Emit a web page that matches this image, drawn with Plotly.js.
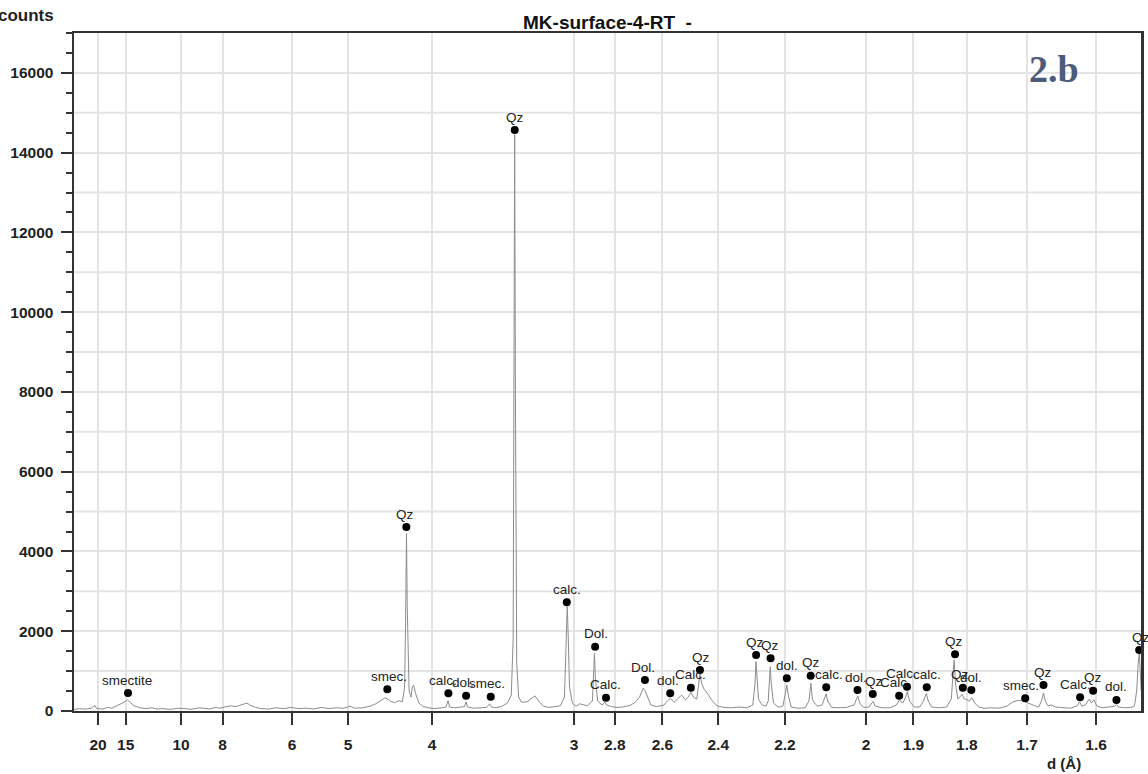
<!DOCTYPE html>
<html><head><meta charset="utf-8">
<script src="https://cdn.plot.ly/plotly-3.0.1.min.js"></script>
<style>html,body{margin:0;padding:0;background:#fff;}#chart{width:1148px;height:774px;}</style>
</head><body><div id="chart"></div>
<script>
// Cu K-alpha wavelength (Å) used to place d-spacings on the 2θ-linear scan axis
const WAVELENGTH = 1.5406;

// Diffractogram profile: 2θ (deg) and counts
const twoTheta = [3.14,3.45,3.75,4.05,4.25,4.35,4.65,4.95,5.15,5.35,5.55,5.72,5.87,5.99,6.12,6.27,6.47,6.67,6.97,7.27,7.57,7.87,8.27,8.67,9.07,9.37,9.77,10.07,10.37,10.67,10.87,11.17,11.47,11.77,12.07,12.35,12.50,12.80,13.10,13.50,13.90,14.30,14.70,15.10,15.50,15.90,16.30,16.70,17.10,17.50,17.83,18.10,18.50,18.90,19.20,19.45,19.70,19.85,20.00,20.20,20.45,20.62,20.74,20.79,20.84,20.88,20.92,20.98,21.08,21.15,21.22,21.35,21.50,21.70,22.00,22.30,22.70,22.95,23.05,23.14,23.40,23.70,23.93,24.01,24.09,24.40,24.80,25.10,25.27,25.37,25.62,25.92,26.22,26.42,26.52,26.56,26.60,26.64,26.67,26.71,26.81,26.96,27.26,27.48,27.68,27.88,28.13,28.43,28.73,29.03,29.25,29.33,29.40,29.45,29.52,29.67,29.87,30.07,30.27,30.47,30.74,30.80,30.85,30.90,31.02,31.25,31.41,31.50,31.75,32.05,32.35,32.75,33.05,33.25,33.45,33.55,33.70,33.85,34.15,34.55,34.75,34.89,35.10,35.30,35.49,35.70,35.85,35.99,36.15,36.30,36.40,36.47,36.55,36.68,36.90,37.05,37.36,37.75,38.15,38.55,38.95,39.28,39.40,39.45,39.50,39.58,39.78,39.98,40.10,40.16,40.21,40.26,40.38,40.65,40.88,41.02,41.09,41.17,41.32,41.67,42.07,42.27,42.37,42.45,42.57,42.72,42.97,43.12,43.18,43.27,43.47,43.87,44.27,44.67,44.82,44.87,44.97,45.17,45.47,45.68,45.80,46.17,46.57,46.92,47.08,47.27,47.42,47.51,47.62,47.87,48.17,48.37,48.52,48.62,48.80,49.20,49.60,49.85,49.95,50.00,50.07,50.20,50.30,50.42,50.55,50.70,50.80,50.94,51.10,51.30,51.60,52.00,52.40,52.80,53.10,53.40,53.70,54.00,54.30,54.50,54.65,54.76,54.85,55.00,55.20,55.40,55.80,56.20,56.55,56.68,56.80,57.00,57.20,57.30,57.45,57.60,57.90,58.20,58.55,58.65,58.75,59.10,59.40,59.60,59.72,59.80,59.86,59.91,59.96];
const counts = [40,60,45,70,140,60,50,90,70,110,150,200,240,280,220,150,110,80,60,80,50,60,40,70,60,40,80,60,50,90,70,100,130,110,150,200,150,90,60,50,80,60,90,60,70,50,90,60,80,70,120,70,80,120,180,260,330,300,240,210,260,230,600,2200,4450,2600,1400,500,350,600,650,400,200,120,80,60,80,100,260,100,80,90,110,230,100,70,80,90,180,100,80,120,200,400,1800,7000,14450,8000,4200,1200,350,220,230,320,380,250,120,90,110,130,350,1500,2615,1900,600,200,120,180,150,130,250,900,1450,800,250,150,220,150,110,90,100,140,230,350,570,500,300,150,110,150,260,320,220,300,400,280,350,470,330,300,700,950,700,550,420,300,130,90,80,100,80,150,700,1240,900,300,150,120,250,800,1110,700,200,90,120,450,650,400,100,70,80,250,700,300,200,120,150,350,430,250,90,80,90,150,330,380,200,90,100,240,120,80,80,150,270,200,350,490,250,100,100,250,440,250,100,80,100,300,1000,1280,700,300,350,420,300,280,240,330,200,100,70,80,70,120,220,270,250,180,130,100,250,450,250,130,150,100,80,70,130,230,120,160,300,200,280,120,80,90,120,160,100,80,90,120,500,1200,1450,1000,500];

// Identified reflections: d-spacing (Å), marker counts, phase label
const peakD = [14.69,4.476,4.261,3.852,3.703,3.514,3.348,3.038,2.893,2.841,2.670,2.570,2.494,2.462,2.282,2.240,2.195,2.132,2.093,2.019,1.985,1.929,1.913,1.874,1.821,1.807,1.792,1.703,1.675,1.622,1.604,1.573,1.544];
const peakCounts = [450,544,4613,443,384,359,14566,2725,1612,334,777,443,585,1028,1404,1320,819,886,594,526,426,384,610,594,1421,585,526,318,652,343,510,276,1529];
const peakLabels = ['smectite','smec.','Qz','calc.','dol.','smec.','Qz','calc.','Dol.','Calc.','Dol.','dol.','Calc.','Qz','Qz','Qz','dol.','Qz','calc.','dol.','Qz','Calc.','Calc.','calc.','Qz','Qz','dol.','smec.','Qz','Calc.','Qz','dol.','Qz'];

// d-spacing tick labels (Å)
const dTickLabels = [20,15,10,8,6,5,4,3,2.8,2.6,2.4,2.2,2,1.9,1.8,1.7,1.6];

// label nudges (px), layout only
const labelDx = [-1,2,-1,-5,-3,-4,0,0,1,-1,-2,-2,0,1,-1,-1,0,0,3,-2,1,-4,-5,0,-1,-3,0,-4,-1,-5,0,0,2];

function dToTwoTheta(d){ return 2*Math.asin(WAVELENGTH/(2*d))*180/Math.PI; }

const peakX = peakD.map(dToTwoTheta);
const tickVals = dTickLabels.map(dToTwoTheta);
const tickText = dTickLabels.map(String);

const SANS = 'Liberation Sans, Arial, Helvetica, sans-serif';
const GRID = '#e4e4e4';
const AXIS = '#333333';

const traces = [
  {type:'scatter', mode:'lines', x: twoTheta, y: counts,
   line:{color:'#8c8c8c', width:1}, hoverinfo:'skip', showlegend:false},
  {type:'scatter', mode:'markers', x: peakX, y: peakCounts,
   marker:{color:'#000', size:8}, cliponaxis:false, hoverinfo:'skip', showlegend:false}
];

const annotations = peakLabels.map((t,i)=>({
  x: peakX[i], y: peakCounts[i], xref:'x', yref:'y', text: t, showarrow:false,
  xshift: labelDx[i], yshift: 13, yanchor:'middle', xanchor:'center',
  font:{family:SANS, size:13.5, color:'#222'}
}));
annotations.push(
  {xref:'paper', yref:'paper', x:-0.0169, y:1.0265, xanchor:'right', yanchor:'middle', showarrow:false,
   text:'counts', font:{family:SANS, size:17, weight:'bold', color:'#222'}},
  {xref:'paper', yref:'paper', x:0.928, y:-0.0767, xanchor:'center', yanchor:'middle', showarrow:false,
   text:'d (Å)', font:{family:SANS, size:15, weight:'bold', color:'#222'}},
  {xref:'paper', yref:'paper', x:0.9185, y:0.9469, xanchor:'center', yanchor:'middle', showarrow:false,
   text:'2.b', font:{family:'Liberation Serif, Times New Roman, serif', size:38, weight:'bold', color:'#4d5b7c'}}
);

const yMax = 17000;
const shapes = [];
for (let v = 1000; v < yMax; v += 2000) {
  shapes.push({type:'line', xref:'paper', yref:'y', x0:0, x1:1, y0:v, y1:v, layer:'below',
               line:{color:GRID, width:2}});
}

const layout = {
  width:1148, height:774,
  margin:{l:74, r:7, t:33, b:63, pad:0},
  paper_bgcolor:'#fff', plot_bgcolor:'#fff',
  title:{text:'MK-surface-4-RT \u00a0-', xref:'paper', x:0.5, xanchor:'center', yref:'container', y:1-22/774, yanchor:'middle',
         font:{family:SANS, size:19, weight:'bold', color:'#111'}},
  xaxis:{range:[3.136, 59.95], tickmode:'array', tickvals:tickVals, ticktext:tickText,
         ticks:'outside', ticklen:12, tickwidth:2, tickcolor:AXIS,
         showline:true, linewidth:2, linecolor:AXIS, mirror:true,
         showgrid:true, gridcolor:GRID, gridwidth:2, zeroline:false,
         ticklabelstandoff:6,
         tickfont:{family:SANS, size:15.5, weight:'bold', color:'#222'}},
  yaxis:{range:[0, yMax], tick0:0, dtick:2000, tickformat:'d',
         ticks:'outside', ticklen:11, tickwidth:2, tickcolor:AXIS,
         minor:{dtick:500, tick0:0, ticks:'outside', ticklen:6, tickwidth:2, tickcolor:AXIS, showgrid:false},
         showline:true, linewidth:2.5, linecolor:AXIS, mirror:true,
         showgrid:true, gridcolor:GRID, gridwidth:2, zeroline:false,
         ticklabelstandoff:4,
         tickfont:{family:SANS, size:15.5, weight:'bold', color:'#222'}},
  shapes: shapes,
  annotations: annotations,
  showlegend:false
};

Plotly.newPlot('chart', traces, layout, {staticPlot:true, displayModeBar:false});
</script>
</body></html>
